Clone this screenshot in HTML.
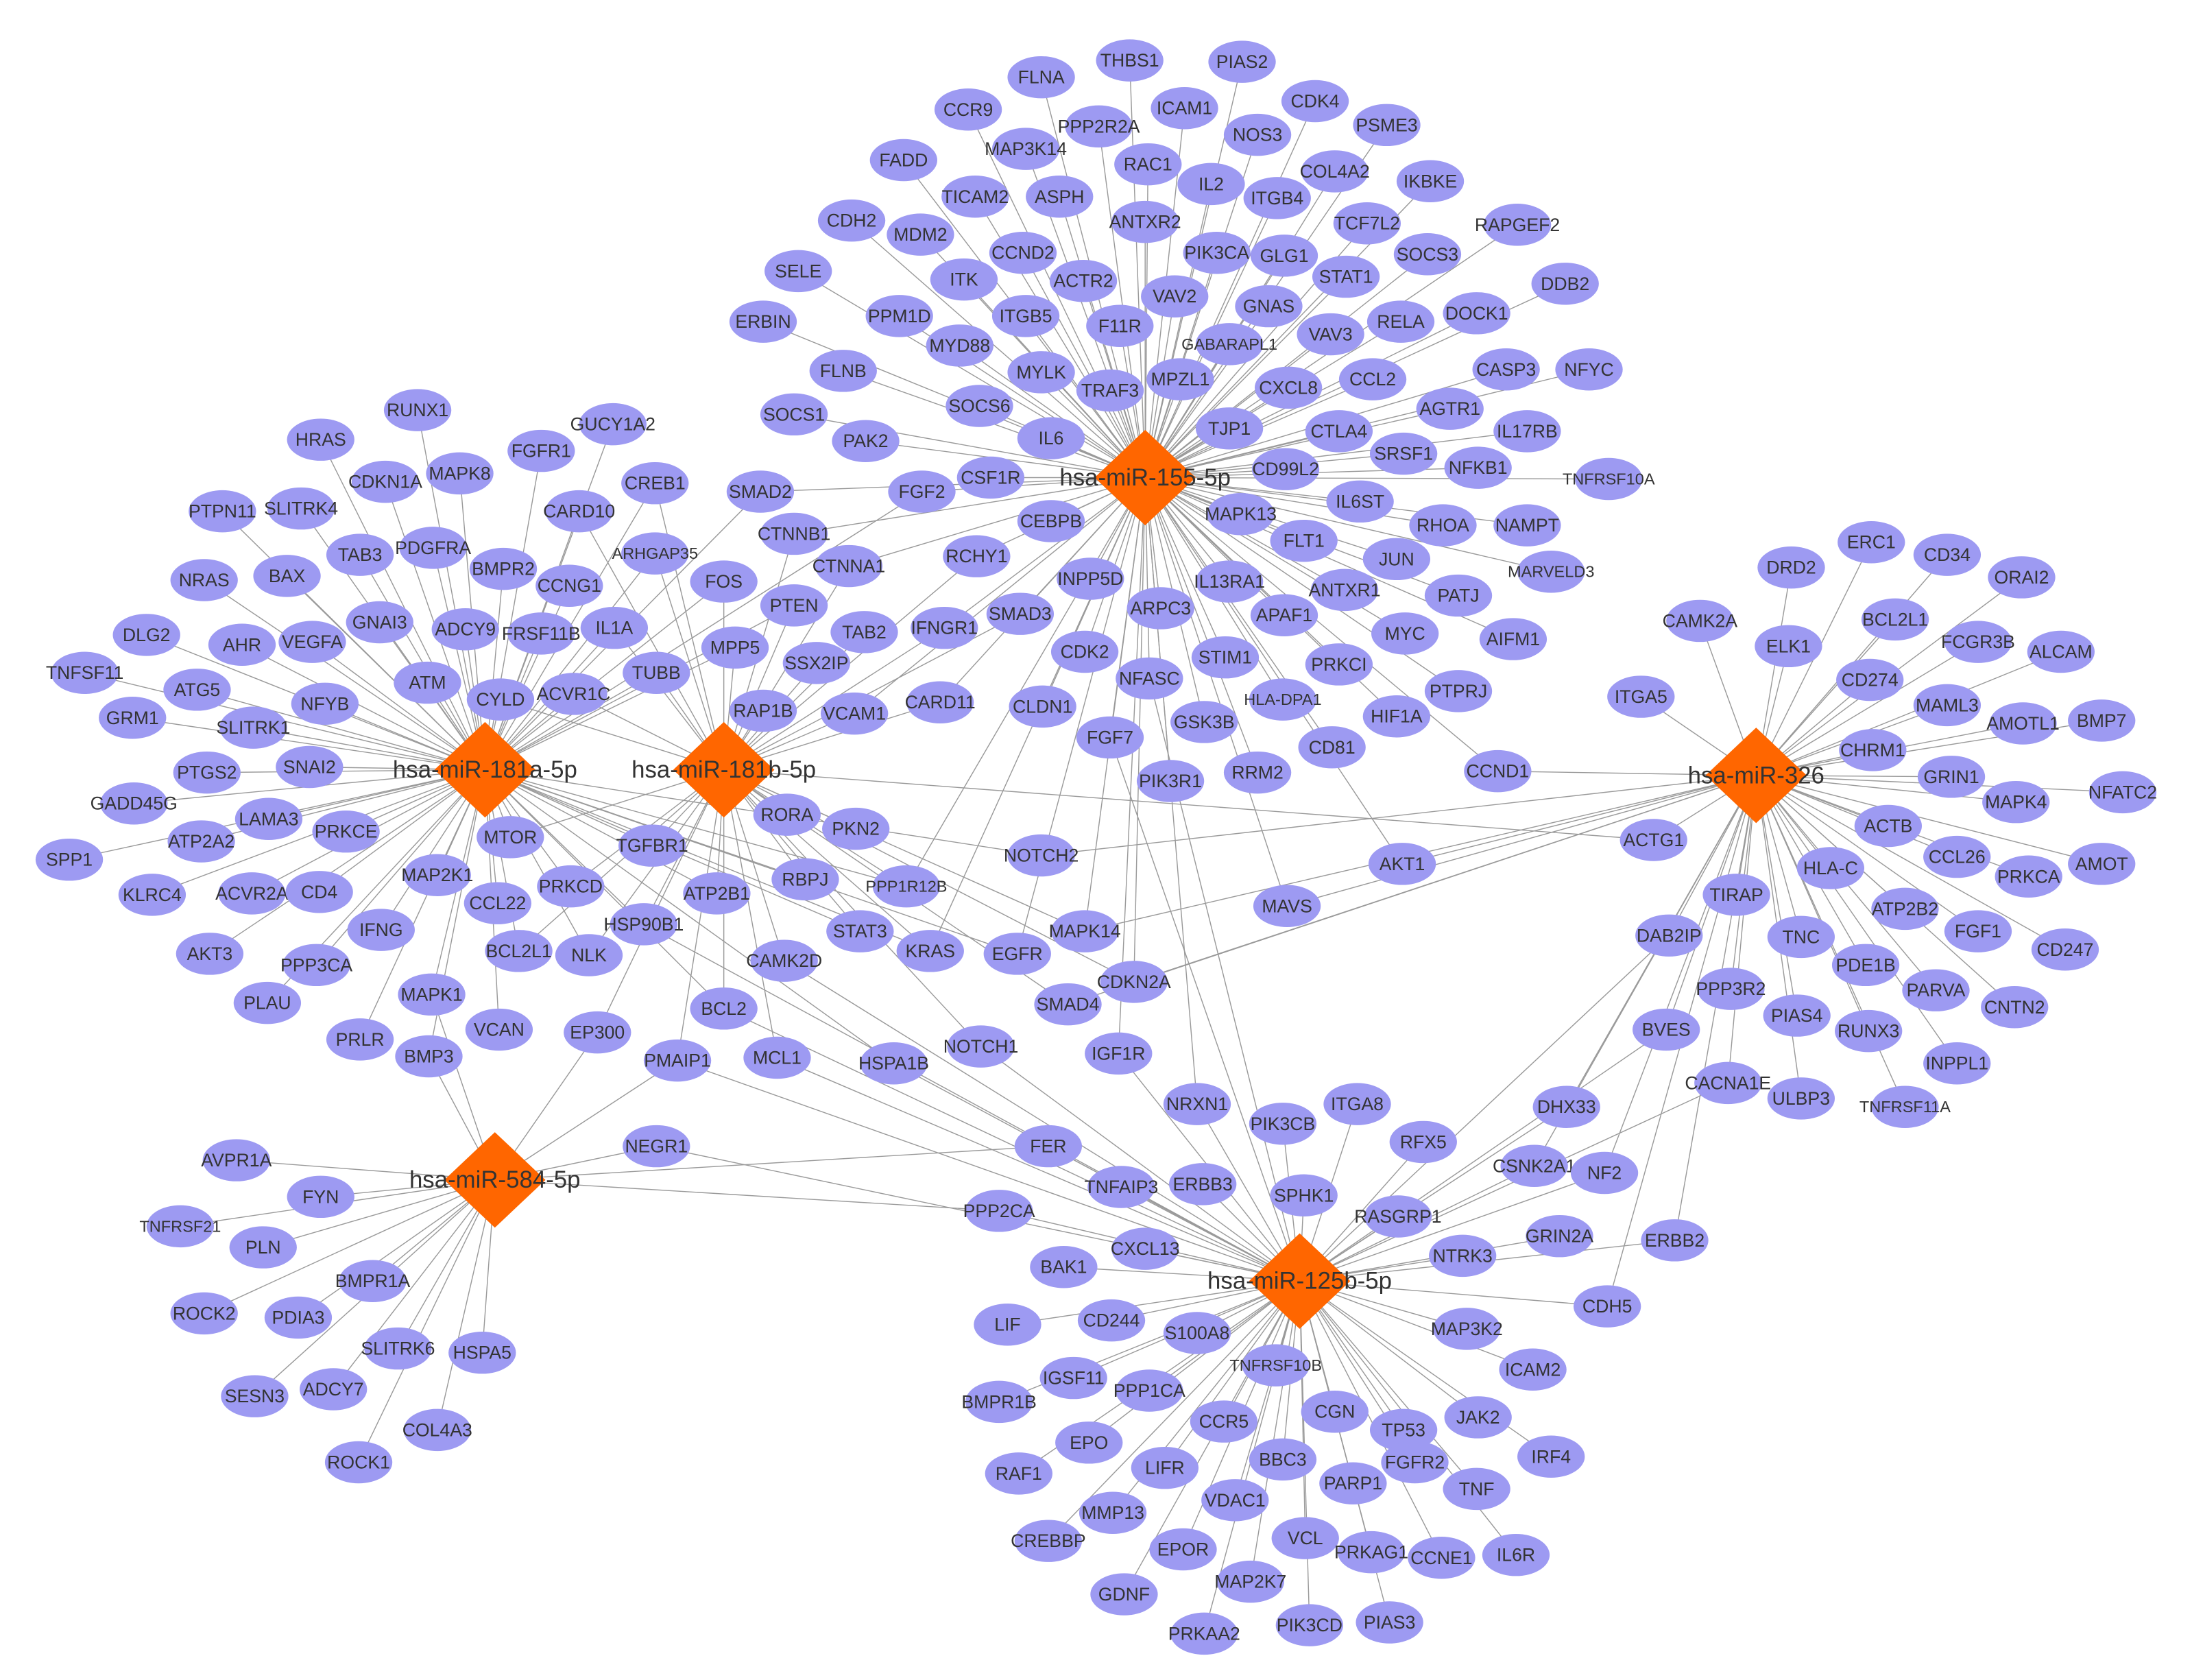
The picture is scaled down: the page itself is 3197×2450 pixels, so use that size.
<!DOCTYPE html>
<html><head><meta charset="utf-8"><style>
html,body{margin:0;padding:0;background:#fff;}
svg{display:block}
text{font-family:"Liberation Sans",sans-serif;fill:#333;text-anchor:middle;dominant-baseline:central}
</style></head><body>
<svg id="s" width="3197" height="2450" viewBox="0 0 1560 1196" xmlns="http://www.w3.org/2000/svg">
<g id="edges" stroke="#9a9a9a" stroke-width="0.7"></g>
<g id="nodes"></g>
<g id="hubs"></g>
</svg>
<script>
var H={c:[815,340,"hsa-miR-155-5p"],a:[345,548,"hsa-miR-181a-5p"],b:[515,548,"hsa-miR-181b-5p"],d:[1250,552,"hsa-miR-326"],e:[352,840,"hsa-miR-584-5p"],f:[925,912,"hsa-miR-125b-5p"]};
var groups=[["c",`FLNA,741,55;THBS1,804,43;PIAS2,884,44;CCR9,689,78;PPP2R2A,782,90;ICAM1,843,77;CDK4,936,72;PSME3,987,89;MAP3K14,730,106;FADD,643,114;RAC1,817,117;NOS3,895,96;COL4A2,950,122;IKBKE,1018,129;TICAM2,694,140;ASPH,754,140;IL2,862,131;ITGB4,909,141;CDH2,606,157;MDM2,655,167;ANTXR2,815,158;TCF7L2,973,159;RAPGEF2,1080,160;CCND2,728,180;PIK3CA,866,180;GLG1,914,182;SOCS3,1016,181;SELE,568,193;ITK,686,199;ACTR2,771,200;STAT1,958,197;DDB2,1114,202;ERBIN,543,229;PPM1D,640,225;ITGB5,730,225;VAV2,836,211;GNAS,903,218;F11R,797,232;DOCK1,1051,223;RELA,997,229;VAV3,947,238;MYD88,683,246;GABARAPL1,875,245;FLNB,600,264;MYLK,741,265;MPZL1,840,270;CXCL8,917,276;CCL2,977,270;CASP3,1072,263;NFYC,1131,263;TRAF3,790,278;SOCS6,697,289;SOCS1,565,295;AGTR1,1032,291;PAK2,616,314;IL6,748,312;TJP1,875,305;CTLA4,953,307;IL17RB,1087,307;SRSF1,999,323;NFKB1,1052,333;CD99L2,915,334;TNFRSF10A,1145,341;FGF2,656,350,ac;CSF1R,705,340;SMAD2,541,350,ac;IL6ST,968,357;NAMPT,1087,374;RHOA,1027,374;CEBPB,748,371;MAPK13,883,366;FLT1,928,385;JUN,994,398;MARVELD3,1104,407;RCHY1,695,396,bc;INPP5D,776,412;IL13RA1,875,414;ANTXR1,957,420;PATJ,1038,424;APAF1,914,438;ARPC3,826,433;MYC,1000,451;AIFM1,1077,455;CDK2,772,464;STIM1,872,468;PRKCI,953,473;NFASC,818,483,cf;PTPRJ,1038,492;HLA-DPA1,913,498;HIF1A,994,510;CLDN1,742,503;GSK3B,857,514;FGF7,790,525,cf;CD81,948,532;PIK3R1,833,556;RRM2,895,550;CCND1,1066,549,cd`],
["a",`RUNX1,297,292;GUCY1A2,436,302;HRAS,228,313;FGFR1,385,321;CDKN1A,274,343;MAPK8,327,337;CREB1,466,344,ab;PTPN11,158,364;SLITRK4,214,362;CARD10,412,364,ab;TAB3,256,395;PDGFRA,308,390;ARHGAP35,466,394,ab;CTNNB1,565,380,bc;NRAS,145,413;BAX,204,410;BMPR2,358,405;CCNG1,405,417;CTNNA1,604,403,bc;FOS,515,414,ab;PTEN,565,431,ab;TAB2,615,450,b;IFNGR1,672,447,bc;SMAD3,726,437,bc;DLG2,104,452;AHR,172,459;VEGFA,222,457;GNAI3,270,443;ADCY9,331,448;FRSF11B,385,451;IL1A,437,447,ab;MPP5,523,461,ab;SSX2IP,581,472,b;TNFSF11,60,479;ATG5,140,491;NFYB,231,501;ATM,304,486;CYLD,356,498,ab;ACVR1C,408,494,ab;TUBB,467,479,ab;GRM1,94,511;SLITRK1,180,518;RAP1B,543,506,b;VCAM1,608,508,bc;CARD11,669,500,bc;PTGS2,147,550;SNAI2,220,546;GADD45G,95,572;LAMA3,191,583;RORA,560,580,b;PKN2,609,590,b;ATP2A2,143,599;PRKCE,246,592;MTOR,363,596,ab;TGFBR1,464,602,ab;SPP1,49,612;NOTCH2,741,609,ad;KLRC4,108,637;ACVR2A,179,636;CD4,227,635;MAP2K1,311,623;PRKCD,406,631,ab;ATP2B1,510,636,ab;RBPJ,573,626,ab;PPP1R12B,645,631,abc;CCL22,354,643;IFNG,271,662;HSP90B1,458,658,abf;STAT3,612,663,ab;KRAS,662,677,abc;EGFR,724,679,ac;MAPK14,772,663,bcd;AKT3,149,679;PPP3CA,225,687;BCL2L1,369,677,ab;NLK,419,680,ab;CAMK2D,558,684,bf;PLAU,190,714;MAPK1,307,708,ae;VCAN,355,733;EP300,425,735,be;BCL2,515,718,abf;PRLR,256,740;BMP3,305,752,ae;PMAIP1,482,755,bef;MCL1,553,753,bf;HSPA1B,636,757,af;NOTCH1,698,745,bf;SMAD4,760,715,bd;CDKN2A,807,699,bcd;IGF1R,796,750,cf`],
["e",`AVPR1A,168,826;NEGR1,467,816,ef;FYN,228,852;TNFRSF21,128,873;PLN,187,888;BMPR1A,265,912;ROCK2,145,935;PDIA3,212,938;SLITRK6,283,960;HSPA5,343,963;SESN3,181,994;ADCY7,237,989;COL4A3,311,1018;ROCK1,255,1041`],
["d",`ERC1,1332,386;DRD2,1275,404;CD34,1386,395;ORAI2,1439,411;CAMK2A,1210,442;BCL2L1,1349,441;ELK1,1273,460;FCGR3B,1408,457;ALCAM,1467,464;CD274,1331,484;ITGA5,1168,496;MAML3,1386,502;AMOTL1,1440,515;BMP7,1496,513;CHRM1,1333,534;GRIN1,1389,553;NFATC2,1511,564;MAPK4,1435,571;ACTG1,1177,598,bd;ACTB,1344,588;CCL26,1393,610;PRKCA,1444,624;AMOT,1496,615;HLA-C,1303,618;TIRAP,1236,637;ATP2B2,1356,647;FGF1,1408,663;CD247,1470,676;TNC,1282,667;DAB2IP,1188,666,df;PDE1B,1328,687;PARVA,1378,705;CNTN2,1434,717;PPP3R2,1232,704;PIAS4,1279,723;RUNX3,1330,734;BVES,1186,733,df;INPPL1,1393,757;CACNA1E,1230,771,df;ULBP3,1282,782;TNFRSF11A,1356,788;AKT1,998,615,cd;MAVS,916,645,cd`],
["f",`NRXN1,852,786,cf;ITGA8,966,786;PIK3CB,913,800;DHX33,1115,788,df;RFX5,1013,813;FER,746,816,ef;CSNK2A1,1092,830,df;NF2,1142,835,df;TNFAIP3,798,845;ERBB3,856,843;SPHK1,928,851;RASGRP1,995,866;PPP2CA,711,862,ef;GRIN2A,1110,880;ERBB2,1192,883,df;NTRK3,1041,894;CXCL13,815,889;BAK1,757,902;CDH5,1144,930,df;LIF,717,943;CD244,791,940;S100A8,852,949;MAP3K2,1044,946;TNFRSF10B,908,972;ICAM2,1091,975;IGSF11,764,981;BMPR1B,711,998;PPP1CA,818,990;CGN,950,1005;TP53,999,1018;JAK2,1052,1009;IRF4,1104,1037;CCR5,871,1012;EPO,775,1027;RAF1,725,1049;LIFR,829,1045;BBC3,913,1039;PARP1,963,1056;FGFR2,1007,1041;TNF,1051,1060;MMP13,792,1077;VDAC1,879,1068;CREBBP,746,1097;EPOR,842,1103;VCL,929,1095;PRKAG1,976,1105;CCNE1,1026,1109;IL6R,1079,1107;MAP2K7,890,1126;GDNF,800,1135;PIK3CD,932,1157;PIAS3,989,1155;PRKAA2,857,1163`]];
var NS="http://www.w3.org/2000/svg";
function el(t,a,p){var e=document.createElementNS(NS,t);for(var k in a)e.setAttribute(k,a[k]);p.appendChild(e);return e;}
var E=document.getElementById("edges"),N=document.getElementById("nodes"),HG=document.getElementById("hubs");
groups.forEach(function(g){g[1].split(";").forEach(function(s){var p=s.split(",");var x=+p[1],y=+p[2],hs=p[3]||g[0];
for(var i=0;i<hs.length;i++){var h=H[hs[i]];el("line",{x1:x,y1:y,x2:h[0],y2:h[1]},E);}
el("ellipse",{cx:x,cy:y,rx:24,ry:15,fill:"#9d9af2"},N);
var fs=p[0].length>7?11.5:13;var t=el("text",{x:x,y:y,"font-size":fs},N);t.textContent=p[0];});});
for(var k in H){var h=H[k];el("polygon",{points:(h[0])+","+(h[1]-34)+" "+(h[0]+36)+","+h[1]+" "+h[0]+","+(h[1]+34)+" "+(h[0]-36)+","+h[1],fill:"#ff6600"},HG);
var t=el("text",{x:h[0],y:h[1],"font-size":17},HG);t.textContent=h[2];}
</script>
</body></html>
